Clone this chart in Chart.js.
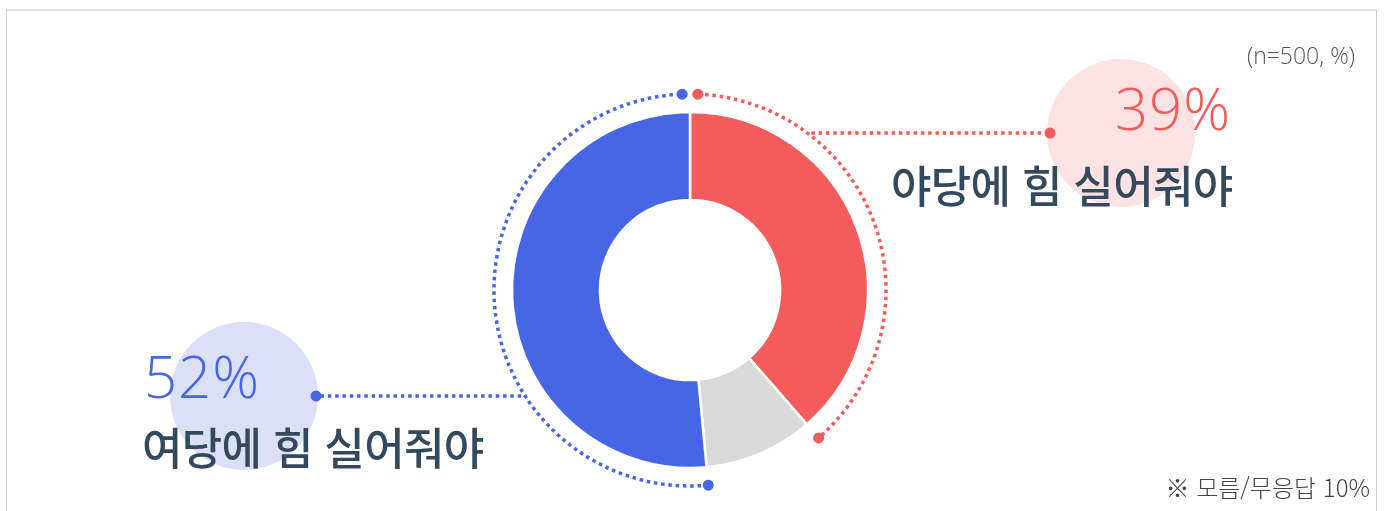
<!DOCTYPE html>
<html lang="ko">
<head>
<meta charset="utf-8">
<title>여야 지지 도넛 차트</title>
<script src="https://cdn.jsdelivr.net/npm/chart.js@4"></script>
<style>
  html, body { margin: 0; padding: 0; background: #fff; }
  #stage { position: relative; width: 1386px; height: 511px; overflow: hidden; font-family: "Noto Sans CJK KR", "Noto Sans", sans-serif; }
  #frame { position: absolute; left: 6px; top: 9px; width: 1369px; height: 520px; border: 1px solid #cfcfcf; border-top: 2px solid #dedede; }
  #chart { position: absolute; left: 0; top: 0; }
  .txt { position: absolute; line-height: 1; white-space: nowrap; }
  .pct { font-family: "Open Sans", "Noto Sans", sans-serif; font-size: 58px; font-weight: 300; letter-spacing: 1px; }
  .lbl { font-size: 44px; font-weight: 500; color: #34495e; letter-spacing: -0.7px; }
  .note { color: #555; font-weight: 300; }
</style>
</head>
<body>
<div id="stage">
  <div id="frame"></div>
  <canvas id="chart" width="1386" height="511"></canvas>
  <div class="txt pct" id="pctOpp" style="right:155px; top:79px; color:#f45b5b;"></div>
  <div class="txt lbl" id="lblOpp" style="left:891px; top:162px;"></div>
  <div class="txt pct" id="pctRul" style="left:144px; top:347px; color:#4666e5;"></div>
  <div class="txt lbl" id="lblRul" style="left:142px; top:424px;"></div>
  <div class="txt note" id="sample" style="right:31px; top:44px; font-size:23px; font-family:'Open Sans','Noto Sans',sans-serif;"></div>
  <div class="txt note" id="foot" style="right:16px; top:475px; font-size:24px; color:#444;"></div>
</div>
<script>
const categories = ['야당에 힘 실어줘야', '모름/무응답', '여당에 힘 실어줘야'];
const shares = [39, 10, 52];
const sampleNote = '(n=500, %)';

const sliceColors = ['#f45b5b', '#d9d9d9', '#4666e5'];
const bubbleColors = ['#fde2e3', null, '#dbe0f8'];

// layout of callouts (anchor = end dot of the leader line)
const callouts = {
  0: { anchorX: 1050, anchorY: 133, bubbleX: 1121, bubbleY: 133 },
  2: { anchorX: 316, anchorY: 396, bubbleX: 244, bubbleY: 396 }
};

document.getElementById('pctOpp').textContent = shares[0] + '%';
document.getElementById('lblOpp').textContent = categories[0];
document.getElementById('pctRul').textContent = shares[2] + '%';
document.getElementById('lblRul').textContent = categories[2];
document.getElementById('sample').textContent = sampleNote;
document.getElementById('foot').textContent = '※ ' + categories[1] + ' ' + shares[1] + '%';

const RING_R = 196;
const TOP_GAP = 2.3 * Math.PI / 180;

function dotted(ctx, color) {
  ctx.strokeStyle = color;
  ctx.lineWidth = 3.5;
  ctx.setLineDash([3.5, 3.8]);
  ctx.lineCap = 'butt';
}

function endDot(ctx, x, y, color) {
  ctx.save();
  ctx.setLineDash([]);
  ctx.fillStyle = color;
  ctx.beginPath();
  ctx.arc(x, y, 5.5, 0, Math.PI * 2);
  ctx.fill();
  ctx.restore();
}

const calloutPlugin = {
  id: 'callouts',
  beforeDatasetsDraw(chart) {
    const ctx = chart.ctx;
    ctx.save();
    Object.keys(callouts).forEach((k) => {
      const c = callouts[k];
      ctx.fillStyle = bubbleColors[k];
      ctx.beginPath();
      ctx.arc(c.bubbleX, c.bubbleY, 74, 0, Math.PI * 2);
      ctx.fill();
    });
    ctx.restore();
  },
  afterDatasetsDraw(chart) {
    const ctx = chart.ctx;
    const arcs = chart.getDatasetMeta(0).data;
    const last = arcs.length - 1;
    Object.keys(callouts).forEach((k) => {
      const i = Number(k);
      const arc = arcs[i];
      const color = sliceColors[i];
      const cx = arc.x, cy = arc.y;
      let a0 = arc.startAngle, a1 = arc.endAngle;
      if (i === 0) a0 += TOP_GAP;
      if (i === last) a1 -= TOP_GAP;
      ctx.save();
      dotted(ctx, color);
      ctx.beginPath();
      ctx.arc(cx, cy, RING_R, a0, a1);
      ctx.stroke();
      // leader line from the ring to the anchor
      const c = callouts[k];
      const dy = c.anchorY - cy;
      const dx = Math.sqrt(RING_R * RING_R - dy * dy);
      const ringX = c.anchorX > cx ? cx + dx + 4 : cx - dx - 4;
      ctx.beginPath();
      ctx.moveTo(ringX, c.anchorY);
      ctx.lineTo(c.anchorX, c.anchorY);
      ctx.stroke();
      ctx.restore();
      endDot(ctx, cx + RING_R * Math.cos(a0), cy + RING_R * Math.sin(a0), color);
      endDot(ctx, cx + RING_R * Math.cos(a1), cy + RING_R * Math.sin(a1), color);
      endDot(ctx, c.anchorX, c.anchorY, color);
    });
  }
};

new Chart(document.getElementById('chart'), {
  type: 'doughnut',
  data: {
    labels: categories,
    datasets: [{
      data: shares,
      backgroundColor: sliceColors,
      borderColor: '#ffffff',
      borderWidth: 2.5,
      hoverOffset: 0
    }]
  },
  options: {
    responsive: false,
    devicePixelRatio: 1,
    animation: false,
    radius: 178,
    cutout: '50.6%',
    layout: { padding: { left: 0, right: 6, top: 69, bottom: 0 } },
    plugins: {
      legend: { display: false },
      tooltip: { enabled: false }
    }
  },
  plugins: [calloutPlugin]
});
</script>
</body>
</html>
